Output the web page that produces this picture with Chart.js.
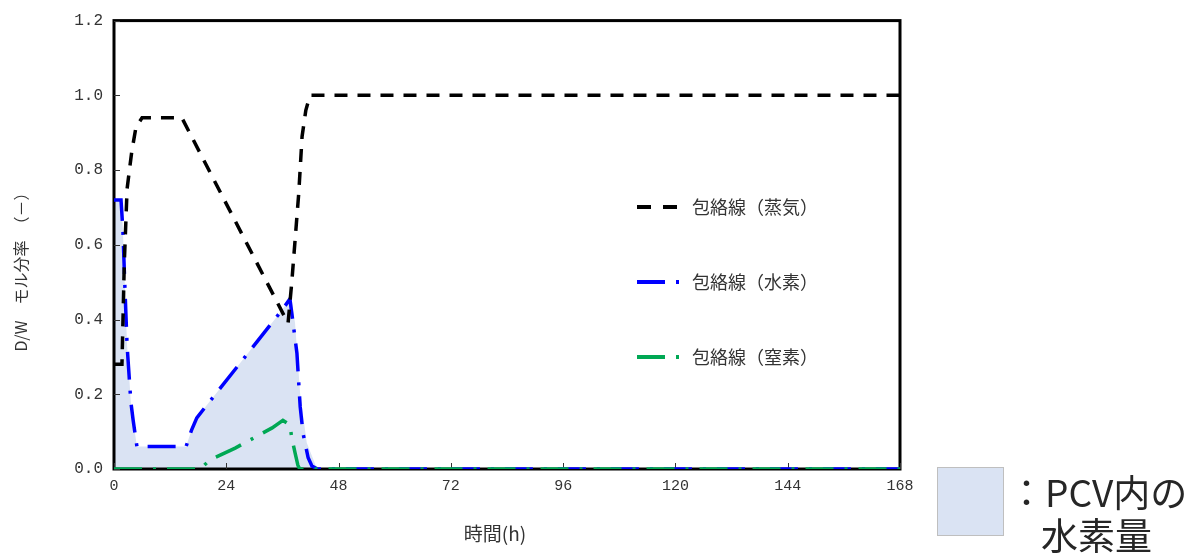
<!DOCTYPE html>
<html>
<head>
<meta charset="utf-8">
<script src="https://cdn.jsdelivr.net/npm/chart.js@4"></script>
<style>
  html, body { margin: 0; padding: 0; background: #fff; }
  #wrap { width: 1192px; height: 554px; }
</style>
</head>
<body>
<div id="wrap"><canvas id="myChart" width="1192" height="554"></canvas></div>
<script>
// 時間 (h)
const steamHours = [0, 1.7, 2.2, 2.8, 3.8, 4.7, 6, 14.5, 37.2, 38.0, 39.5, 40.2, 41.0, 41.9, 168]
const steamValues = [0.28, 0.28, 0.55, 0.75, 0.85, 0.915, 0.94, 0.94, 0.39, 0.5, 0.74, 0.89, 0.96, 1.0, 1.0]

const hydrogenHours = [0, 1.5, 1.9, 2.35, 2.8, 3.6, 4.1, 4.9, 15.4, 16.6, 17.7, 35.9, 37.6, 38.0, 39.1, 39.8, 40.4, 41.5, 42.3, 43.5, 168]
const hydrogenValues = [0.72, 0.72, 0.64, 0.48, 0.33, 0.18, 0.13, 0.06, 0.06, 0.105, 0.137, 0.425, 0.455, 0.417, 0.31, 0.166, 0.096, 0.03, 0.008, 0, 0]

const nitrogenHours = [0, 18.4, 20.5, 25.9, 33.8, 36.1, 37.6, 38.0, 38.7, 39.3, 39.7, 168]
const nitrogenValues = [0, 0, 0.024, 0.056, 0.11, 0.13, 0.118, 0.083, 0.043, 0.01, 0, 0]

// PCV内の水素量 (塗りつぶし)
const areaHours = [0, 1.5, 1.9, 2.35, 2.8, 3.6, 4.1, 4.9, 15.4, 16.6, 17.7, 35.9, 37.9, 38.7, 39.8, 41.2, 43.4]
const areaValues = [0.72, 0.72, 0.64, 0.48, 0.33, 0.18, 0.13, 0.06, 0.06, 0.105, 0.137, 0.425, 0.46, 0.39, 0.2, 0.07, 0]

const xTicks = [0, 24, 48, 72, 96, 120, 144, 168]
const yTicks = [0, 0.2, 0.4, 0.6, 0.8, 1.0, 1.2]

const seriesNames = ['包絡線（蒸気）', '包絡線（水素）', '包絡線（窒素）']
const areaName = 'PCV内の水素量'

const pts = (xs, ys) => xs.map((x, i) => ({ x: x, y: ys[i] }))

const legendItems = [
    { name: seriesNames[0], color: '#000000', dash: [14, 12] },
    { name: seriesNames[1], color: '#0000ff', dash: [28, 11, 3, 30] },
    { name: seriesNames[2], color: '#00a854', dash: [28, 11, 3, 30] },
]

const decorPlugin = {
    id: 'decor',
    beforeDatasetsDraw(chart) {
        const ctx = chart.ctx
        const a = chart.chartArea
        ctx.save()
        ctx.strokeStyle = '#000'
        ctx.lineWidth = 3
        ctx.strokeRect(a.left, a.top, a.right - a.left, a.bottom - a.top)
        // inward tick marks
        ctx.lineWidth = 1
        ctx.strokeStyle = '#333'
        const xs = chart.scales.x, ys = chart.scales.y
        xTicks.forEach(t => {
            const px = Math.round(xs.getPixelForValue(t)) + 0.5
            ctx.beginPath(); ctx.moveTo(px, a.bottom); ctx.lineTo(px, a.bottom - 6); ctx.stroke()
        })
        yTicks.forEach(t => {
            const py = Math.round(ys.getPixelForValue(t)) + 0.5
            ctx.beginPath(); ctx.moveTo(a.left, py); ctx.lineTo(a.left + 6, py); ctx.stroke()
        })
        ctx.restore()
    },
    afterDraw(chart) {
        const ctx = chart.ctx
        ctx.save()
        // legend inside plot
        legendItems.forEach((it, i) => {
            const y = 207 + i * 75
            ctx.strokeStyle = it.color
            ctx.lineWidth = 4
            ctx.setLineDash(it.dash)
            ctx.beginPath(); ctx.moveTo(637, y); ctx.lineTo(681, y); ctx.stroke()
            ctx.setLineDash([])
            ctx.fillStyle = '#333'
            ctx.font = '18px "Noto Sans CJK JP"'
            ctx.textAlign = 'left'
            ctx.textBaseline = 'middle'
            ctx.fillText(it.name, 692, y)
        })
        // axis titles
        ctx.fillStyle = '#333'
        ctx.font = '19px "Noto Sans CJK JP"'
        ctx.textAlign = 'center'
        ctx.textBaseline = 'middle'
        ctx.fillText('時間(h)', 495, 534)
        ctx.save()
        ctx.translate(21, 268)
        ctx.rotate(-Math.PI / 2)
        ctx.font = '16px "Noto Sans CJK JP"'
        ctx.fillText('D/W　モル分率　（－）', 0, 0)
        ctx.restore()
        // area key
        ctx.fillStyle = '#dae3f3'
        ctx.fillRect(937, 467, 66, 68)
        ctx.strokeStyle = '#bfbfbf'
        ctx.lineWidth = 1
        ctx.strokeRect(937.5, 467.5, 66, 68)
        ctx.fillStyle = '#262626'
        ctx.font = '37px "Noto Sans CJK JP"'
        ctx.textAlign = 'left'
        ctx.fillText('：PCV内の', 1008, 493)
        ctx.fillText('水素量', 1041, 536)
        ctx.restore()
    }
}

const data = {
    datasets: [
        {
            label: seriesNames[2],
            data: pts(nitrogenHours, nitrogenValues),
            borderColor: '#00a854',
            borderWidth: 3.5,
            borderDash: [28, 11, 3, 11],
            pointRadius: 0,
            fill: false,
        },
        {
            label: seriesNames[0],
            data: pts(steamHours, steamValues),
            borderColor: '#000000',
            borderWidth: 3.5,
            borderDash: [13, 10],
            pointRadius: 0,
            fill: false,
        },
        {
            label: seriesNames[1],
            data: pts(hydrogenHours, hydrogenValues),
            borderColor: '#0000ff',
            borderWidth: 3.5,
            borderDash: [28, 11, 3, 11],
            pointRadius: 0,
            fill: false,
        },
        {
            label: areaName,
            data: pts(areaHours, areaValues),
            borderWidth: 0,
            borderColor: 'rgba(0,0,0,0)',
            backgroundColor: '#dae3f3',
            pointRadius: 0,
            fill: 'origin',
        },
    ]
}

const config = {
    type: 'line',
    data: data,
    options: {
        responsive: false,
        animation: false,
        layout: { padding: { top: 20, right: 292, left: 0, bottom: 0 } },
        elements: { line: { tension: 0 } },
        scales: {
            x: {
                type: 'linear',
                min: 0,
                max: 168,
                afterFit: s => { s.height = 85 },
                afterBuildTicks: s => { s.ticks = xTicks.map(v => ({ value: v })) },
                grid: { display: false, drawTicks: false },
                border: { display: false },
                ticks: {
                    padding: 8,
                    color: '#333',
                    font: { family: 'Liberation Mono', size: 15 },
                    maxRotation: 0,
                }
            },
            y: {
                min: 0,
                max: 1.2,
                afterFit: s => { s.width = 114 },
                afterBuildTicks: s => { s.ticks = yTicks.map(v => ({ value: v })) },
                grid: { display: false, drawTicks: false },
                border: { display: false },
                ticks: {
                    padding: 11,
                    color: '#333',
                    font: { family: 'Liberation Mono', size: 16 },
                    callback: v => Number(v).toFixed(1),
                }
            }
        },
        plugins: {
            legend: { display: false },
            tooltip: { enabled: false },
            filler: { drawTime: 'beforeDatasetsDraw' },
        }
    },
    plugins: [decorPlugin]
};

const myChart = new Chart('myChart', config);
</script>
</body>
</html>
